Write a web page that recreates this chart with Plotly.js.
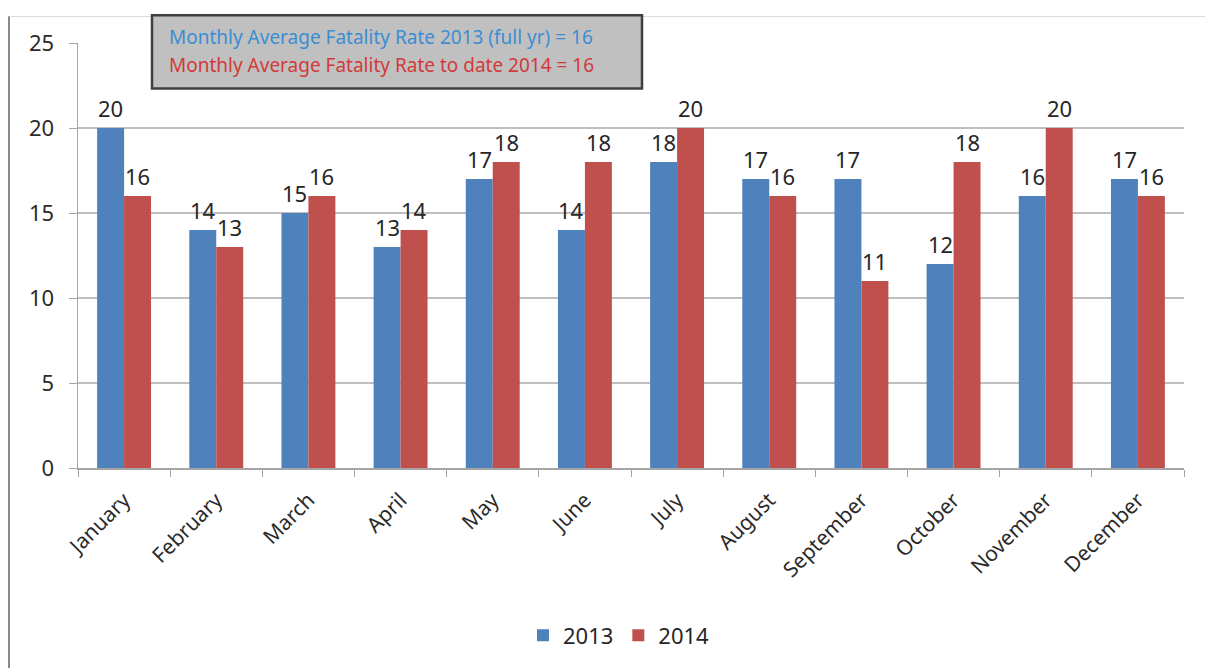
<!DOCTYPE html>
<html>
<head>
<meta charset="utf-8">
<script src="https://cdn.plot.ly/plotly-3.0.1.min.js"></script>
<style>
  html, body { margin: 0; padding: 0; background: #fff; }
  #frame { position: absolute; left: 8px; top: 16px; width: 1197px; height: 652px;
           border-left: 2px solid #8a8a8a; border-top: 1px solid #dcdcdc; }
  #chart { position: absolute; left: 0; top: 0; width: 1205px; height: 668px; }
</style>
</head>
<body>
<div id="frame"></div>
<div id="chart"></div>
<script>
const months = ["January","February","March","April","May","June","July","August","September","October","November","December"];
const values2013 = [20,14,15,13,17,14,18,17,17,12,16,17];
const values2014 = [16,13,16,14,18,18,20,16,11,18,20,16];
const seriesNames = ["2013","2014"];
const noteLines = ["Monthly Average Fatality Rate 2013 (full yr) = 16", "Monthly Average Fatality Rate to date 2014 = 16"];

const FONT = "Noto Sans, sans-serif";
const W = 1205, H = 668, L = 78, R = 21, T = 43, B = 196;
const pw = W - L - R, ph = H - T - B;
const px = v => (v - L) / pw;
const py = v => (H - B - v) / ph;
const BARGAP = 0.415;
const barW = pw / months.length * (1 - BARGAP) / 2;

const traces = [
  { type: "bar", name: seriesNames[0], x: months, y: values2013, marker: { color: "#4f81bd" }, hoverinfo: "x+y" },
  { type: "bar", name: seriesNames[1], x: months, y: values2014, marker: { color: "#c0504d" }, hoverinfo: "x+y" }
];

const labelAnn = [];
[values2013, values2014].forEach((vals, si) => {
  vals.forEach((v, i) => {
    labelAnn.push({
      xref: "x", yref: "y", x: months[i], y: v, xshift: (si === 0 ? -1 : 1) * barW / 2,
      yshift: 3, xanchor: "center", yanchor: "bottom", showarrow: false, text: String(v),
      font: { size: 22, color: "#262626", family: FONT }
    });
  });
});

const layout = {
  width: W, height: H,
  margin: { l: L, r: R, t: T, b: B },
  paper_bgcolor: "rgba(0,0,0,0)", plot_bgcolor: "rgba(0,0,0,0)",
  barmode: "group", bargap: BARGAP, bargroupgap: 0,
  font: { family: FONT, color: "#333" },
  xaxis: {
    type: "category", tickangle: -45, tickson: "boundaries",
    ticks: "outside", ticklen: 7, tickcolor: "#a6a6a6", ticklabelstandoff: 10,
    showline: true, linecolor: "#a6a6a6", linewidth: 1.5,
    showgrid: false, tickfont: { size: 21, color: "#2b2b2b", family: FONT }
  },
  yaxis: {
    range: [0, 25], dtick: 5, ticks: "outside", ticklen: 8, tickcolor: "#a6a6a6",
    ticklabelstandoff: 10,
    showline: true, linecolor: "#a6a6a6", linewidth: 1.5,
    showgrid: true, gridcolor: "#bfbfbf", gridwidth: 1.5, zeroline: false,
    tickfont: { size: 22, color: "#2b2b2b", family: FONT }
  },
  showlegend: true,
  legend: { orientation: "h", x: px(619), xanchor: "center", y: py(641), yanchor: "middle",
            font: { size: 22, color: "#262626", family: FONT }, itemwidth: 30, traceorder: "normal" },
  shapes: [{
    type: "rect", xref: "paper", yref: "paper",
    x0: px(152), x1: px(642), y0: py(89), y1: py(15),
    fillcolor: "#c0c0c0", line: { color: "#3f3f3f", width: 2.5 }, layer: "above"
  }],
  annotations: labelAnn.concat([
    { xref: "paper", yref: "paper", x: px(167), y: py(37), xanchor: "left", yanchor: "middle",
      showarrow: false, text: noteLines[0], font: { size: 19, family: FONT, color: "#3b8ed3" } },
    { xref: "paper", yref: "paper", x: px(167), y: py(65), xanchor: "left", yanchor: "middle",
      showarrow: false, text: noteLines[1], font: { size: 19, family: FONT, color: "#d23a3a" } }
  ])
};

Plotly.newPlot("chart", traces, layout, { displayModeBar: false, staticPlot: true });
</script>
</body>
</html>
